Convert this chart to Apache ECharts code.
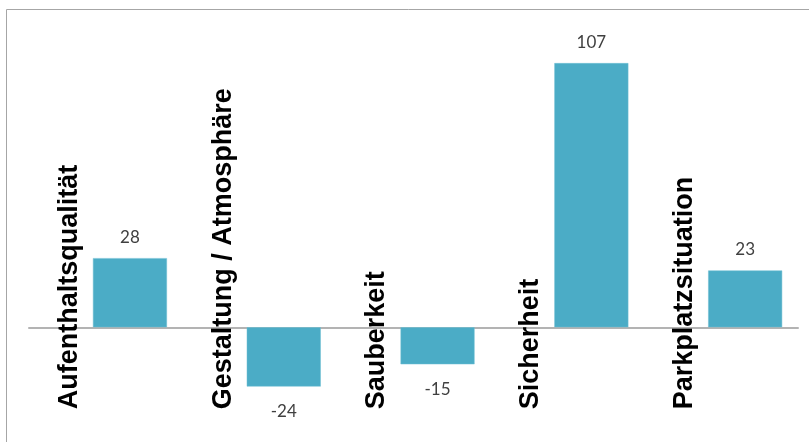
<!DOCTYPE html>
<html>
<head>
<meta charset="utf-8">
<script src="https://cdn.jsdelivr.net/npm/echarts@6/dist/echarts.min.js"></script>
<style>
  html, body { margin: 0; padding: 0; background: #ffffff; }
  #chart { width: 809px; height: 442px; }
</style>
</head>
<body>
<div id="chart"></div>
<script>
// Bewertung der Innenstadt-Kriterien (Saldo)
const categories = ['Aufenthaltsqualität', 'Gestaltung / Atmosphäre', 'Sauberkeit', 'Sicherheit', 'Parkplatzsituation'];
const values = [28, -24, -15, 107, 23];

const chart = echarts.init(document.getElementById('chart'));

chart.setOption({
  animation: false,
  backgroundColor: '#ffffff',
  graphic: [{
    type: 'rect',
    shape: { x: 6.5, y: 9.5, width: 900, height: 600 },
    style: { fill: 'none', stroke: '#a6a6a6', lineWidth: 1 },
    silent: true,
    z: -1
  }],
  grid: { left: 29, width: 769, top: 31, height: 395, outerBoundsMode: 'none', containLabel: false },
  xAxis: {
    type: 'category',
    data: categories,
    axisLine: { onZero: true, lineStyle: { color: '#b3b3b3', width: 2 } },
    axisTick: { show: false },
    axisLabel: { show: false }
  },
  yAxis: {
    type: 'value',
    min: -40,
    max: 120,
    show: false,
    splitLine: { show: false }
  },
  series: [
    {
      // Platzhalter links neben jedem Balken, trägt die Kategoriebeschriftung
      type: 'bar',
      data: categories.map(() => 0),
      barWidth: 74,
      barGap: '-35%',
      silent: true,
      itemStyle: { color: 'rgba(0,0,0,0)' },
      label: {
        show: true,
        formatter: '{b}',
        rotate: 90,
        position: [24.5, 82],
        align: 'left',
        verticalAlign: 'middle',
        color: '#000000',
        fontFamily: 'Liberation Sans, Arial, sans-serif',
        fontWeight: 'bold',
        fontSize: 27
      },
      z: 3
    },
    {
      type: 'bar',
      data: values.map(v => ({
        value: v,
        label: { position: v < 0 ? 'bottom' : 'top', distance: v < 0 ? 17 : 12 }
      })),
      barWidth: 74,
      barGap: '-35%',
      itemStyle: { color: '#4bacc6', borderColor: '#6fbfd3', borderWidth: 0.5 },
      label: {
        show: true,
        color: '#404040',
        fontFamily: 'Lato, sans-serif',
        fontSize: 17
      },
      z: 2
    }
  ]
});
</script>
</body>
</html>
